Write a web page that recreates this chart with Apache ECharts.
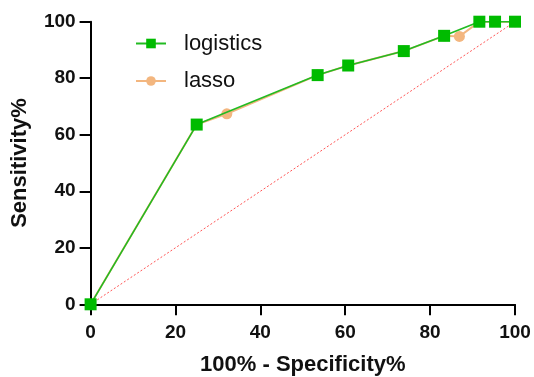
<!DOCTYPE html>
<html><head><meta charset="utf-8">
<script src="https://cdn.jsdelivr.net/npm/echarts@6/dist/echarts.min.js"></script>
<style>html,body{margin:0;padding:0;background:#fff}#c{width:534px;height:377px}</style>
</head><body><div id="c"></div>
<script>
var logisticsX = [0, 25, 53.5, 60.7, 73.8, 83.3, 91.6, 95.3, 100];
var logisticsY = [0, 63.6, 81.1, 84.5, 89.6, 95.0, 100, 100, 100];
var lassoX = [0, 25, 32.1, 53.5, 60.7, 73.8, 83.3, 86.9, 91.6, 100];
var lassoY = [0, 63.6, 67.4, 81.1, 84.5, 89.6, 95.0, 94.8, 100, 100];
var refX = [0, 100];
var refY = [0, 100];
var xTicks = [0, 20, 40, 60, 80, 100];
var yTicks = [0, 20, 40, 60, 80, 100];

function pairs(xs, ys){ return xs.map(function(x,i){ return [x, ys[i]]; }); }

var chart = echarts.init(document.getElementById('c'));
var FONT = 'Liberation Sans, Arial, sans-serif';
var axisCommon = {
  type: 'value', min: 0, max: 100, interval: 20,
  axisLine: {show: true, lineStyle: {color: '#000', width: 2}},
  axisTick: {show: true, inside: false, length: 11, lineStyle: {color: '#000', width: 2}},
  splitLine: {show: false},
  axisLabel: {color: '#111', fontFamily: FONT, fontWeight: 'bold', fontSize: 19},
  nameTextStyle: {color: '#111', fontFamily: FONT, fontWeight: 'bold', fontSize: 22}
};
chart.setOption({
  animation: false,
  grid: {left: 90.6, right: 19, top: 21.7, bottom: 72.7, containLabel: false, outerBoundsMode: 'none'},
  legend: {
    orient: 'vertical', left: 130, top: 27.5, itemWidth: 30, itemHeight: 12, itemGap: 15.5,
    textStyle: {fontFamily: FONT, fontSize: 22, lineHeight: 22, color: '#111', padding: [0,0,0,13]},
    data: ['logistics', 'lasso']
  },
  xAxis: Object.assign({}, axisCommon, {
    name: '100% - Specificity%', nameLocation: 'middle', nameGap: 50,
    axisLabel: Object.assign({}, axisCommon.axisLabel, {margin: 19, formatter: function(v){ return xTicks.indexOf(v) >= 0 ? String(v) : ''; }})
  }),
  yAxis: Object.assign({}, axisCommon, {
    name: 'Sensitivity%', nameLocation: 'middle', nameGap: 60,
    axisLabel: Object.assign({}, axisCommon.axisLabel, {margin: 15, formatter: function(v){ return yTicks.indexOf(v) >= 0 ? String(v) : ''; }})
  }),
  series: [
    {
      name: 'ref', type: 'line', data: pairs(refX, refY), showSymbol: false, symbol: 'none',
      lineStyle: {color: '#ff5555', width: 1, type: [2, 2]}, z: 1, silent: true
    },
    {
      name: 'lasso', type: 'line', data: pairs(lassoX, lassoY), symbol: 'circle', symbolSize: 11,
      showAllSymbol: true,
      itemStyle: {color: '#f3b67f'}, lineStyle: {color: '#f3b67f', width: 2}, z: 2
    },
    {
      name: 'logistics', type: 'line', data: pairs(logisticsX, logisticsY), symbol: 'rect', symbolSize: 12,
      showAllSymbol: true,
      itemStyle: {color: '#00bb00'}, lineStyle: {color: '#22bb22', width: 1.6}, z: 3
    }
  ]
});
</script>
</body></html>
